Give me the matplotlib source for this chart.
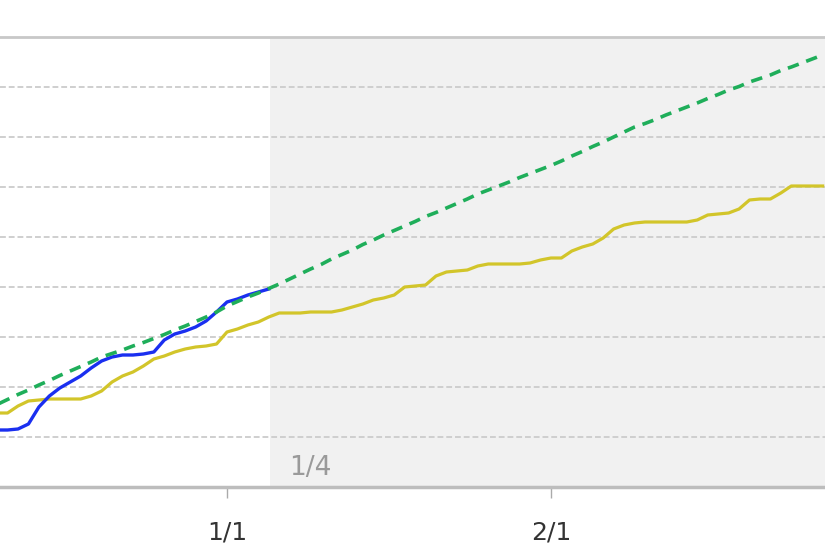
import numpy as np
import matplotlib
matplotlib.use('Agg')
import matplotlib.pyplot as plt

# days counted from 1/1
blue_days = np.arange(-22, 5)
blue = [1.14, 1.14, 1.16, 1.26, 1.6, 1.82, 1.98, 2.1, 2.22, 2.38, 2.52, 2.6, 2.64,
        2.64, 2.66, 2.7, 2.94, 3.06, 3.12, 3.2, 3.32, 3.5, 3.7, 3.76, 3.84, 3.9, 3.96]

yellow_days = np.arange(-22, 58)
yellow = [1.48, 1.48, 1.62, 1.72, 1.74, 1.76, 1.76, 1.76, 1.76, 1.82, 1.92, 2.1,
          2.22, 2.3, 2.42, 2.56, 2.62, 2.7, 2.76, 2.8, 2.82, 2.86,
          3.1, 3.16, 3.24, 3.3, 3.4, 3.48, 3.48, 3.48, 3.5, 3.5,
          3.5, 3.54, 3.6, 3.66, 3.74, 3.78, 3.84, 4.0, 4.02, 4.04,
          4.22, 4.3, 4.32, 4.34, 4.42, 4.46, 4.46, 4.46, 4.46, 4.48,
          4.54, 4.58, 4.58, 4.72, 4.8, 4.86, 4.98, 5.16, 5.24, 5.28,
          5.3, 5.3, 5.3, 5.3, 5.3, 5.34, 5.44, 5.46, 5.48, 5.56,
          5.74, 5.76, 5.76, 5.88, 6.02, 6.02, 6.02, 6.02]

green_days = np.arange(-22, 58)
green = [1.65, 1.75, 1.85, 1.94, 2.04, 2.13, 2.23, 2.32, 2.41, 2.5, 2.6, 2.67,
         2.74, 2.82, 2.89, 2.97, 3.05, 3.14, 3.22, 3.31, 3.4, 3.5,
         3.62, 3.71, 3.8, 3.88, 3.97, 4.06, 4.16, 4.26, 4.36, 4.45,
         4.56, 4.65, 4.74, 4.85, 4.94, 5.04, 5.13, 5.22, 5.31, 5.41,
         5.49, 5.58, 5.67, 5.76, 5.86, 5.94, 6.02, 6.1, 6.19, 6.27,
         6.35, 6.43, 6.52, 6.62, 6.71, 6.81, 6.9, 7.0, 7.1, 7.2,
         7.27, 7.35, 7.44, 7.52, 7.6, 7.68, 7.77, 7.85, 7.94, 8.01,
         8.1, 8.17, 8.24, 8.33, 8.4, 8.48, 8.56, 8.64]

tick_days = [0, 31]
tick_labels = ['1/1', '2/1']
shade_start = 4.1
shade_label = '1/4'

fig = plt.figure(figsize=(8.25, 5.6), dpi=100)
ax = fig.add_axes([0, 73/560, 1, 450/560])

ax.axvspan(shade_start, 60, color='#f1f1f1', zorder=0, lw=0)
for y in range(1, 9):
    ax.axhline(y, color='#cfcfcf', lw=1.4, ls=(0, (3, 1.5)), zorder=1)

ax.plot(yellow_days, yellow, color='#d2c52a', lw=2.3, zorder=3)
ax.plot(blue_days, blue, color='#1a2ff0', lw=2.4, zorder=4)
ax.plot(green_days, green, color='#1fae5a', lw=2.6, ls=(0, (3.2, 2.2)), zorder=5)

ax.text(shade_start + 1.8, 0.12, shade_label, color='#9a9a9a', fontsize=19,
        ha='left', va='bottom', zorder=2)

ax.set_xlim(-227/10.45, (825-227)/10.45)
ax.set_ylim(0, 9)
ax.set_yticks([])
ax.set_xticks(tick_days)
ax.set_xticklabels(tick_labels, fontsize=18, color='#333333')
ax.tick_params(axis='x', length=8, width=1, color='#aaaaaa', pad=16)

for s in ['left', 'right']:
    ax.spines[s].set_visible(False)
ax.spines['top'].set_color('#c8c8c8')
ax.spines['top'].set_linewidth(2)
ax.spines['bottom'].set_color('#bdbdbd')
ax.spines['bottom'].set_linewidth(2.5)
ax.patch.set_facecolor('white')

plt.savefig('out.png', dpi=100)
